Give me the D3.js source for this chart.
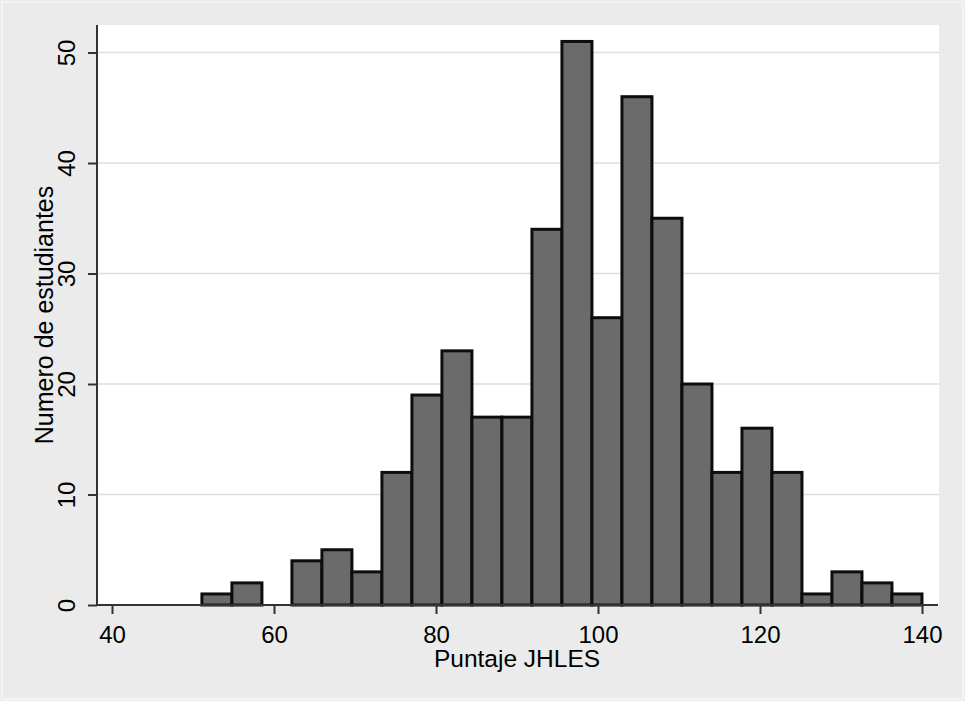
<!DOCTYPE html>
<html>
<head>
<meta charset="utf-8">
<script src="https://cdn.jsdelivr.net/npm/d3@7"></script>
<style>
  html, body { margin: 0; padding: 0; background: #ebebeb; }
  svg { display: block; }
  text { font-family: "Liberation Sans", Arial, sans-serif; fill: #000; }
</style>
</head>
<body>
<script>
// ---- Data ----
const binCounts = [1, 2, 0, 4, 5, 3, 12, 19, 23, 17, 17, 34, 51, 26, 46, 35, 20, 12, 16, 12, 1, 3, 2, 1];
const binStart = 51.1;
const binWidth = 3.704;
const xTicks = [40, 60, 80, 100, 120, 140];
const yTicks = [0, 10, 20, 30, 40, 50];
const gridValues = [10, 20, 30, 40, 50];
const xTitle = "Puntaje JHLES";
const yTitle = "Numero de estudiantes";

const bins = binCounts.map((c, i) => ({ x0: binStart + i * binWidth, x1: binStart + (i + 1) * binWidth, count: c }));

// ---- Layout ----
const W = 965, H = 701;
const plot = { left: 97, right: 939, top: 25, bottom: 605 };

const svg = d3.select("body").append("svg").attr("width", W).attr("height", H);

svg.append("rect").attr("x", 0).attr("y", 0).attr("width", W).attr("height", H).attr("fill", "#ebebeb");
svg.append("rect").attr("x", 2).attr("y", 2).attr("width", W - 4).attr("height", H - 4)
  .attr("fill", "none").attr("stroke", "#f3f3f3").attr("stroke-width", 2);

const x = d3.scaleLinear().domain([40, 140]).range([112, 922]);
const y = d3.scaleLinear().domain([0, 50]).range([605, 52.5]);

// plot region
svg.append("rect").attr("x", plot.left).attr("y", plot.top)
  .attr("width", plot.right - plot.left).attr("height", plot.bottom - plot.top)
  .attr("fill", "#fff");

// gridlines
svg.append("g").selectAll("line").data(gridValues).join("line")
  .attr("x1", plot.left).attr("x2", plot.right)
  .attr("y1", d => y(d)).attr("y2", d => y(d))
  .attr("stroke", "#dedede").attr("stroke-width", 1.5);

// bars
svg.append("g").selectAll("rect").data(bins.filter(b => b.count > 0)).join("rect")
  .attr("x", d => x(d.x0))
  .attr("y", d => y(d.count))
  .attr("width", d => x(d.x1) - x(d.x0))
  .attr("height", d => y(0) - y(d.count))
  .attr("fill", "#6b6b6b")
  .attr("stroke", "#0d0d0d")
  .attr("stroke-width", 3);

// y axis
const yAxis = d3.axisLeft(y).tickValues(yTicks).tickSize(9).tickPadding(0).tickFormat(d3.format("d"));
const gy = svg.append("g").attr("transform", `translate(${plot.left},0)`).call(yAxis);
gy.select(".domain").attr("d", `M0,${plot.top}V${plot.bottom}`).attr("stroke", "#333").attr("stroke-width", 2);
gy.selectAll(".tick line").attr("stroke", "#333").attr("stroke-width", 2);
gy.selectAll(".tick text")
  .attr("x", null).attr("dy", null)
  .attr("text-anchor", "middle")
  .attr("transform", "translate(-22,0) rotate(-90)")
  .attr("font-size", 24)
  .attr("font-family", "Liberation Sans, Arial, sans-serif")
  .attr("fill", "#000");

// x axis
const xAxis = d3.axisBottom(x).tickValues(xTicks).tickSize(9).tickPadding(0).tickFormat(d3.format("d"));
const gx = svg.append("g").attr("transform", `translate(0,${plot.bottom})`).call(xAxis);
gx.select(".domain").attr("d", `M${plot.left},0H${plot.right - 1}`).attr("stroke", "#333").attr("stroke-width", 2);
gx.selectAll(".tick line").attr("stroke", "#333").attr("stroke-width", 2);
gx.selectAll(".tick text")
  .attr("y", 38).attr("dy", null)
  .attr("font-size", 24)
  .attr("font-family", "Liberation Sans, Arial, sans-serif")
  .attr("fill", "#000");

// titles
svg.append("text")
  .attr("x", (plot.left + plot.right) / 2 - 1)
  .attr("y", 667)
  .attr("text-anchor", "middle")
  .attr("font-size", 24.5)
  .text(xTitle);

svg.append("text")
  .attr("transform", `translate(53,${(plot.top + plot.bottom) / 2}) rotate(-90)`)
  .attr("text-anchor", "middle")
  .attr("font-size", 25)
  .text(yTitle);
</script>
</body>
</html>
